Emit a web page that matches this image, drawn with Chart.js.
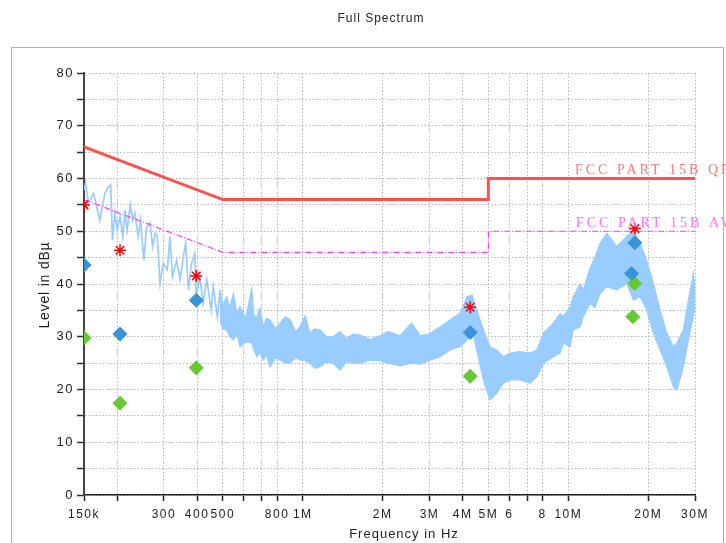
<!DOCTYPE html>
<html>
<head>
<meta charset="utf-8">
<script src="https://cdn.jsdelivr.net/npm/chart.js@4.4.1/dist/chart.umd.min.js"></script>
<style>
  html, body { margin: 0; padding: 0; background: #fff; }
  canvas { display: block; }
</style>
</head>
<body>
<canvas id="spectrum" width="726" height="543"></canvas>
<script>
// frequencies in MHz, levels in dBµV

// x axis
const xTickVals = [0.15, 0.2, 0.3, 0.4, 0.5, 0.6, 0.7, 0.8, 1, 2, 3, 4, 5, 6, 7, 8, 10, 20, 30];
const xTickLabels = ['150k', '', '300', '400', '500', '', '', '800', '1M', '2M', '3M', '4M', '5M', '6', '', '8', '10M', '20M', '30M'];

// limit lines
const qpFreq = [0.15, 0.5, 5, 5, 30];
const qpLevel = [66, 56, 56, 60, 60];
const avFreq = [0.15, 0.5, 5, 5, 30];
const avLevel = [56, 46, 46, 50, 50];

// measured trace, low band (single visible line)
const lowFreq = [0.150, 0.152, 0.156, 0.163, 0.172, 0.180, 0.185, 0.189, 0.192, 0.196, 0.200, 0.205, 0.210, 0.214, 0.218, 0.224, 0.229, 0.233, 0.240, 0.245, 0.252, 0.258, 0.266, 0.272, 0.278, 0.283, 0.290, 0.298, 0.309, 0.316, 0.323, 0.335, 0.345, 0.355, 0.362, 0.371, 0.381, 0.392, 0.397, 0.410, 0.421, 0.435, 0.452, 0.460, 0.477, 0.488];
const lowLevel = [57.8, 59.1, 55.3, 57.2, 52.1, 57.2, 58.4, 58.8, 48.3, 53.4, 50.2, 52.8, 49.0, 54.0, 50.2, 55.0, 52.1, 53.4, 49.0, 52.1, 44.5, 50.9, 51.5, 47.1, 49.6, 49.0, 40.1, 43.9, 42.7, 49.0, 41.4, 44.5, 40.8, 45.2, 47.7, 38.9, 43.9, 45.8, 37.6, 41.4, 36.3, 40.8, 35.1, 39.5, 33.8, 38.9];

// measured trace, dense part: upper / lower envelope
const bandFreq = [0.488, 0.50, 0.517, 0.53, 0.548, 0.565, 0.58, 0.61, 0.642, 0.655, 0.671, 0.69, 0.71, 0.73, 0.753, 0.79, 0.821, 0.86, 0.896, 0.94, 0.977, 1.02, 1.065, 1.11, 1.161, 1.23, 1.30, 1.38, 1.464, 1.55, 1.643, 1.8, 1.955, 2.1, 2.325, 2.57, 2.765, 3.0, 3.29, 3.587, 3.91, 4.157, 4.34, 4.52, 4.79, 5.07, 5.38, 5.69, 6.03, 6.58, 7.18, 7.61, 8.06, 8.79, 9.31, 9.58, 10.15, 10.45, 11.07, 11.39, 12.08, 12.6, 13.17, 13.96, 15.22, 16.6, 17.58, 18.63, 19.74, 20.91, 22.16, 23.49, 24.87, 25.62, 27.12, 28.33, 29.58, 30.0];
const bandHi = [38.9, 36.0, 37.6, 35.5, 38.2, 34.5, 35.7, 33.5, 39.2, 34.0, 33.8, 35.5, 31.9, 33.5, 33.2, 31.5, 32.6, 33.8, 33.2, 31.0, 31.9, 34.0, 30.7, 31.5, 31.3, 30.0, 30.0, 31.0, 29.7, 30.5, 30.3, 29.5, 30.2, 31.0, 30.2, 32.6, 30.2, 30.5, 31.9, 33.2, 34.5, 37.6, 37.9, 35.1, 31.3, 28.1, 27.5, 26.2, 26.9, 27.2, 26.9, 27.5, 30.7, 32.6, 34.4, 33.8, 35.7, 37.6, 40.1, 38.9, 43.0, 45.0, 47.7, 49.6, 47.1, 49.0, 50.2, 47.7, 44.5, 40.1, 35.1, 30.7, 28.1, 28.8, 31.3, 37.0, 42.0, 39.5];
const bandLo = [33.0, 31.5, 31.3, 30.0, 29.4, 30.5, 28.1, 29.0, 28.8, 27.5, 26.2, 27.0, 25.6, 26.5, 24.3, 26.0, 25.6, 25.0, 25.0, 26.0, 25.6, 25.5, 25.0, 24.0, 24.3, 25.2, 25.0, 23.7, 25.3, 25.0, 25.0, 25.6, 25.4, 25.0, 24.5, 25.0, 24.8, 25.5, 26.2, 27.5, 28.1, 29.4, 31.3, 27.5, 21.8, 18.0, 19.3, 21.2, 21.8, 21.8, 21.2, 22.4, 25.0, 26.2, 26.9, 28.8, 28.1, 31.3, 31.9, 33.8, 36.3, 35.5, 38.2, 39.5, 38.9, 40.1, 37.0, 37.6, 35.1, 30.7, 27.5, 24.3, 20.5, 19.9, 24.3, 29.4, 33.8, 35.7];

// final measurement markers
const peakFreq = [0.15, 0.205, 0.397, 4.27, 17.8];
const peakLevel = [55.0, 46.4, 41.5, 35.6, 50.5];
const qpMarkFreq = [0.15, 0.205, 0.397, 4.27, 17.8, 17.3];
const qpMarkLevel = [43.6, 30.5, 36.9, 30.8, 47.8, 42.0];
const avMarkFreq = [0.15, 0.205, 0.397, 4.27, 17.8, 17.5];
const avMarkLevel = [29.8, 17.4, 24.1, 22.5, 40.1, 33.8];

const pts = (xs, ys) => xs.map((x, i) => ({ x: x, y: ys[i] }));

const TRACE = 'rgb(153,204,255)';

Chart.defaults.font.family = "'Liberation Sans', Arial, sans-serif";
Chart.defaults.color = '#222';

const decor = {
  id: 'decor',
  beforeDraw(chart) {
    const ctx = chart.ctx;
    ctx.save();
    ctx.strokeStyle = '#b4b4b4';
    ctx.lineWidth = 1;
    ctx.strokeRect(11.5, 47.5, 712, 600);
    ctx.restore();
    ctx.letterSpacing = '1.5px';
  },
  afterDraw(chart) {
    const ctx = chart.ctx;
    ctx.save();
    ctx.fillStyle = '#222';
    ctx.textAlign = 'center';
    ctx.textBaseline = 'middle';
    ctx.letterSpacing = '1px';
    ctx.font = "12px 'Liberation Sans', Arial, sans-serif";
    ctx.fillText('Full Spectrum', 381, 19);
    ctx.font = "13px 'Liberation Sans', Arial, sans-serif";
    ctx.fillText('Frequency in Hz', 404, 534);
    ctx.save();
    ctx.translate(45, 285);
    ctx.rotate(-Math.PI / 2);
    ctx.letterSpacing = '0.8px';
    ctx.font = "14px 'Liberation Sans', Arial, sans-serif";
    ctx.fillText('Level in dBµ', 0, 0);
    ctx.restore();

    ctx.textAlign = 'left';
    ctx.letterSpacing = '3px';
    ctx.font = "14px 'Liberation Serif', 'DejaVu Serif', serif";
    ctx.fillStyle = 'rgb(255,120,120)';
    ctx.fillText('FCC PART 15B QP', 575, 170);
    ctx.fillStyle = 'rgb(255,110,255)';
    ctx.fillText('FCC PART 15B AV', 576, 223);
    ctx.restore();
  }
};

new Chart(document.getElementById('spectrum'), {
  type: 'line',
  data: {
    datasets: [
      { data: pts(peakFreq, peakLevel), showLine: false, pointStyle: 'star', pointRadius: 6,
        borderColor: 'rgb(255,0,0)', backgroundColor: 'rgb(255,0,0)', pointBorderWidth: 1.5, order: 0 },
      { data: pts(qpMarkFreq, qpMarkLevel), showLine: false, pointStyle: 'rectRot', pointRadius: 7,
        borderColor: 'rgb(58,148,220)', backgroundColor: 'rgb(58,148,220)', pointBorderWidth: 1, order: 1 },
      { data: pts(avMarkFreq, avMarkLevel), showLine: false, pointStyle: 'rectRot', pointRadius: 7,
        borderColor: 'rgb(102,200,50)', backgroundColor: 'rgb(102,200,50)', pointBorderWidth: 1, order: 1 },
      { data: pts(qpFreq, qpLevel), borderColor: 'rgb(255,80,80)', borderWidth: 3, pointRadius: 0, order: 2 },
      { data: pts(avFreq, avLevel), borderColor: 'rgb(255,60,255)', borderWidth: 1.2, borderDash: [6, 2, 1, 2],
        pointRadius: 0, order: 2 },
      { data: pts(lowFreq, lowLevel), borderColor: TRACE, borderWidth: 1.7, pointRadius: 0, order: 3 },
      { data: pts(bandFreq, bandHi), borderColor: TRACE, borderWidth: 1.2, pointRadius: 0, fill: false, order: 4 },
      { data: pts(bandFreq, bandLo), borderColor: TRACE, borderWidth: 1.2, pointRadius: 0,
        fill: '-1', backgroundColor: TRACE, order: 4 }
    ]
  },
  options: {
    responsive: false,
    animation: false,
    layout: { padding: { top: 73, right: 31, bottom: 0, left: 0 } },
    plugins: { legend: { display: false }, tooltip: { enabled: false }, title: { display: false } },
    scales: {
      x: {
        type: 'logarithmic',
        min: 0.15,
        max: 30,
        afterBuildTicks: (scale) => { scale.ticks = xTickVals.map(v => ({ value: v })); },
        afterFit: (scale) => { scale.height = 48; },
        ticks: {
          autoSkip: false,
          maxRotation: 0,
          padding: 6,
          font: { size: 12 },
          callback: (v, i) => xTickLabels[i]
        },
        grid: { color: '#b8b8b8', lineWidth: 1, tickColor: '#222', tickLength: 6, tickWidth: 1.5 },
        border: { color: '#222', width: 1.5, dash: [1.5, 2] }
      },
      y: {
        min: 0,
        max: 80,
        afterFit: (scale) => { scale.width = 84; },
        ticks: {
          stepSize: 5,
          padding: 3,
          font: { size: 13 },
          callback: (v) => (v % 10 === 0 ? v : '')
        },
        grid: { color: '#b8b8b8', lineWidth: 1, tickColor: '#333', tickLength: 7, tickWidth: 1.5 },
        border: { color: '#444', width: 2, dash: [1.5, 2] }
      }
    }
  },
  plugins: [decor]
});
</script>
</body>
</html>
